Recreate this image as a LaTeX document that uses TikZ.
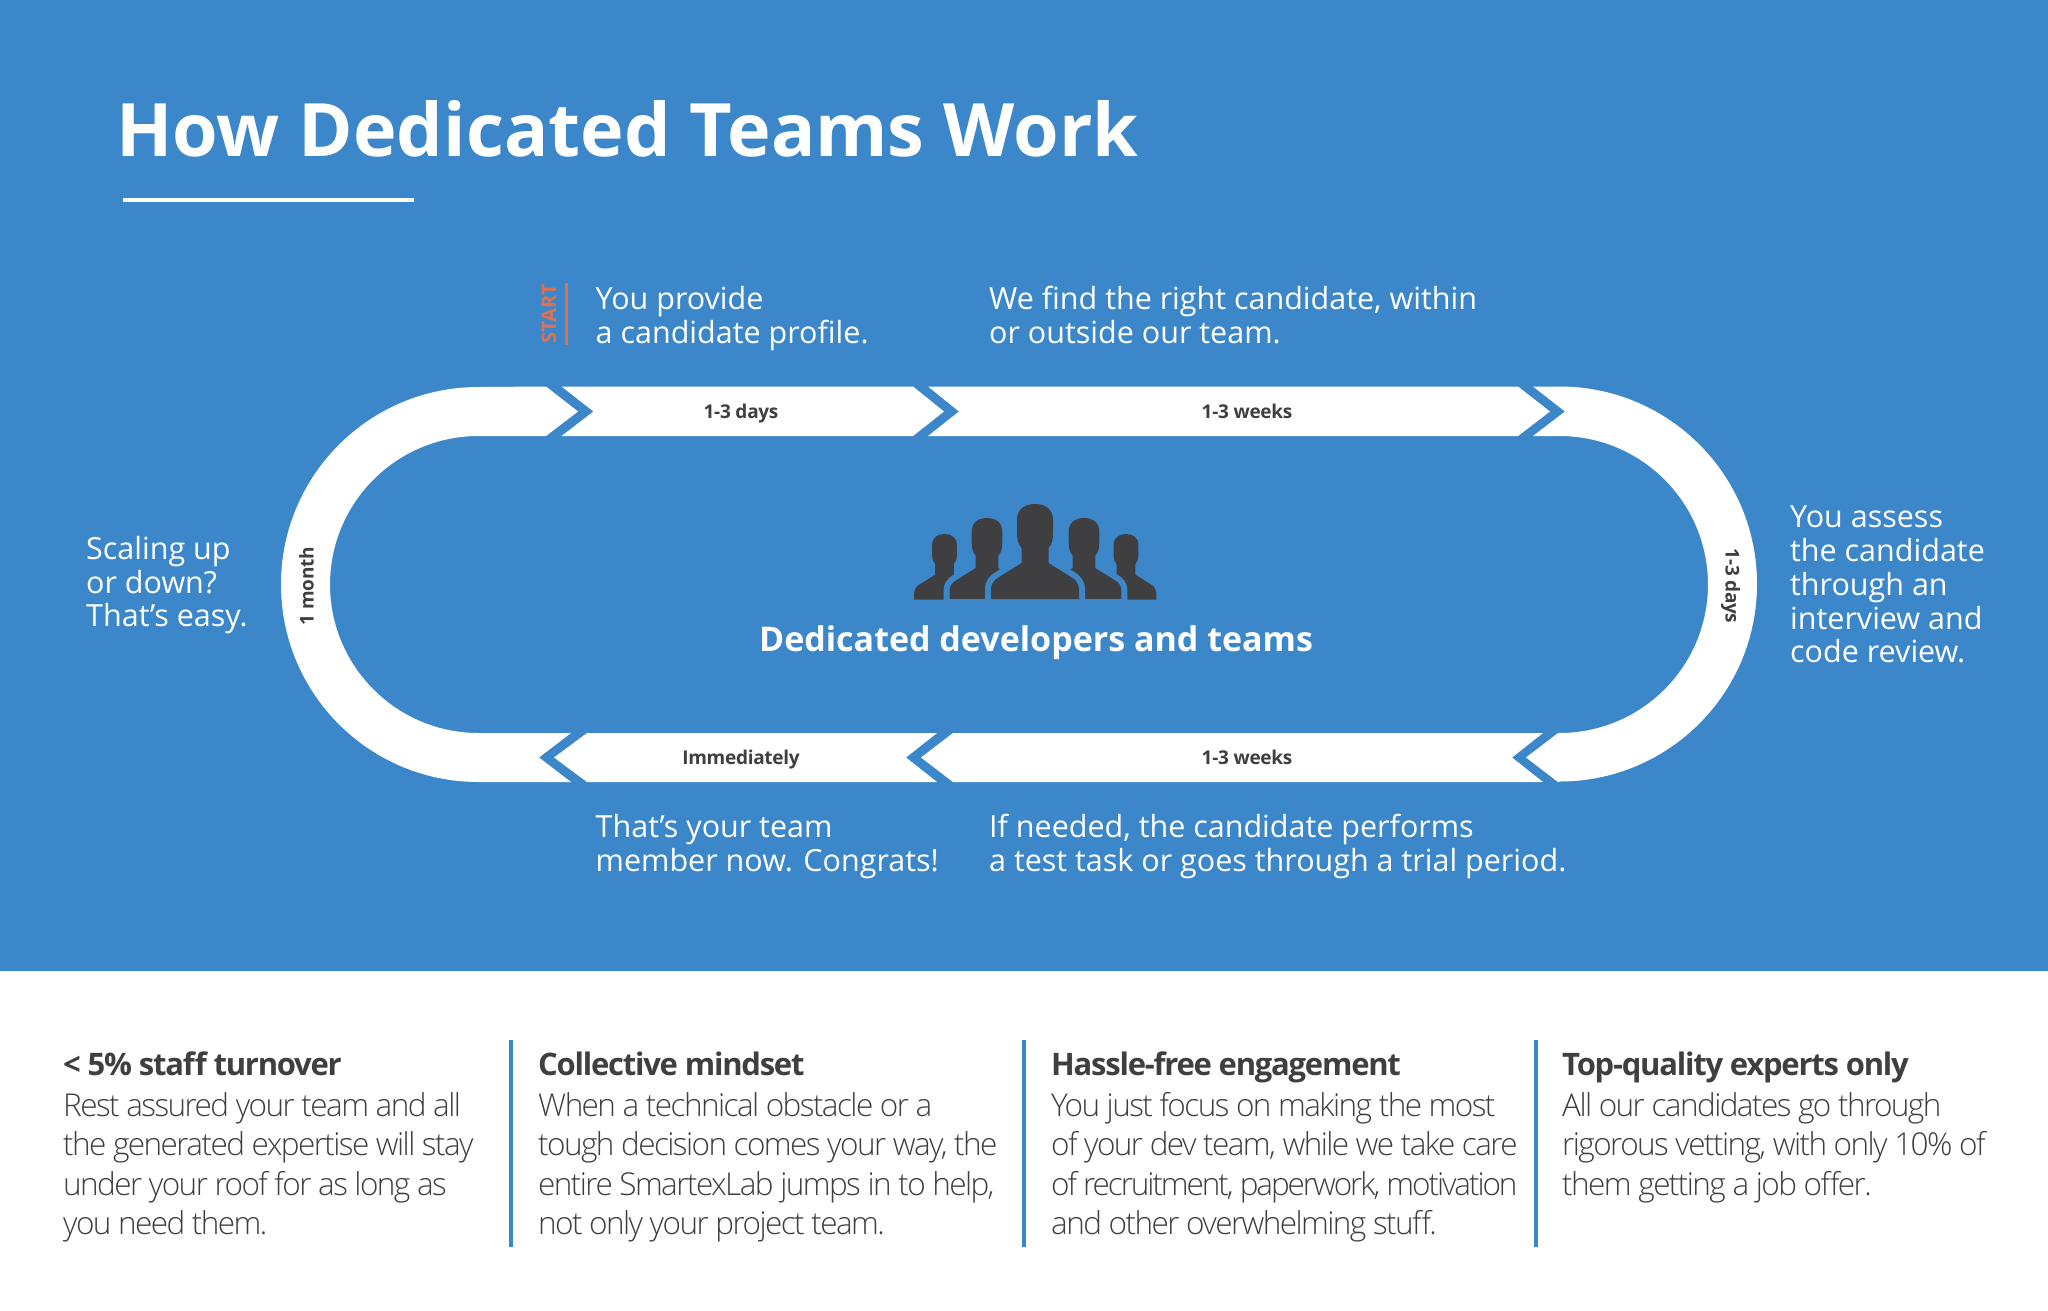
\documentclass[tikz,border=0pt]{standalone}
\usepackage{fontspec}
\setmainfont{Open Sans}
\newfontfamily\lightfont{Open Sans Light}
\usepackage{tikz}
\definecolor{teamblue}{HTML}{3C87C9}
\definecolor{teamdark}{HTML}{3F3F42}
\definecolor{teamorange}{HTML}{E2704F}
\tikzstyle{track} = [fill=white]
\tikzstyle{steplabel} = [anchor=base,
inner sep=0pt,
text=teamdark,
font=\fontsize{19}{23}\selectfont\bfseries\addfontfeatures{LetterSpace=-1.5}]
\tikzstyle{caption} = [anchor=north west,
inner sep=0pt,
align=left,
text=white,
font=\fontsize{30.5}{33.7}\selectfont]
\tikzstyle{heading} = [anchor=base west,
inner sep=0pt,
text=teamdark,
font=\fontsize{31}{39}\selectfont\bfseries\addfontfeatures{LetterSpace=-4}]
\tikzstyle{body} = [anchor=north west,
inner sep=0pt,
align=left,
text=teamdark,
font=\lightfont\fontsize{31.5}{39.5}\selectfont\addfontfeatures{LetterSpace=-5}]
\tikzstyle{divider} = [teamblue,line width=4pt]
\tikzset{member/.pic={
  \path[draw=teamblue,line width=12pt,fill=teamblue,pic actions] (-13.5,59) -- (-13.5,44) .. controls (-17,40) and (-18,36) .. (-18,28) -- (-18,16) .. controls (-18,5) and (-10,0) .. (0,0) .. controls (10,0) and (18,5) .. (18,16) -- (18,28) .. controls (18,36) and (17,40) .. (13.5,44) -- (13.5,59) -- (36,73) .. controls (41,76) and (44,80) .. (44,85) -- (44,95) -- (-44,95) -- (-44,85) .. controls (-44,80) and (-41,76) .. (-36,73) -- cycle;
  \fill[teamdark] (-13.5,59) -- (-13.5,44) .. controls (-17,40) and (-18,36) .. (-18,28) -- (-18,16) .. controls (-18,5) and (-10,0) .. (0,0) .. controls (10,0) and (18,5) .. (18,16) -- (18,28) .. controls (18,36) and (17,40) .. (13.5,44) -- (13.5,59) -- (36,73) .. controls (41,76) and (44,80) .. (44,85) -- (44,95) -- (-44,95) -- (-44,85) .. controls (-44,80) and (-41,76) .. (-36,73) -- cycle;
}}

\begin{document}
\begin{tikzpicture}[x=1pt,y=-1pt]
        \useasboundingbox (0,0) rectangle (2048,1310);
        \fill[white] (0,0) rectangle (2048,1310);
        \fill[teamblue] (0,0) rectangle (2048,971);

        \node (title) [anchor=base west, inner sep=0pt, text=white, font=\fontsize{73.7}{80}\selectfont\bfseries] at (116,156) {How Dedicated Teams Work};
        \draw[white, line width=4pt] (123,200) -- (414,200);

        % the loop
        \fill[track] (546,386.5) -- (578,411.5) -- (546,436) -- (478.5,436) arc[start angle=90,end angle=270,radius=148.5pt] -- (571,733) -- (539,757.5) -- (571,782) -- (478.5,782) arc[start angle=270,end angle=90,radius=197.5pt] -- cycle;
        \fill[track] (561.5,386.5) -- (913,386.5) -- (944,411.5) -- (913,436) -- (561.5,436) -- (593.5,411.5) -- cycle;
        \fill[track] (928,386.5) -- (1518,386.5) -- (1550,411.5) -- (1518,436) -- (928,436) -- (959,411.5) -- cycle;
        \fill[track] (1533,386.5) -- (1559.5,386.5) arc[start angle=90,end angle=-90,radius=197.5pt] -- (1558,782) -- (1526,757.5) -- (1558,733) -- (1559.5,733) arc[start angle=-90,end angle=90,radius=148.5pt] -- (1533,436) -- (1565,411.5) -- cycle;
        \fill[track] (587,733) -- (937,733) -- (906,757.5) -- (937,782) -- (587,782) -- (554,757.5) -- cycle;
        \fill[track] (953,733) -- (1543,733) -- (1512,757.5) -- (1543,782) -- (953,782) -- (921,757.5) -- cycle;

        \node (days1) [steplabel] at (741,418) {1-3 days};
        \node (weeks1) [steplabel] at (1247,418) {1-3 weeks};
        \node (days2) [steplabel, rotate=-90] at (1725.5,586) {1-3 days};
        \node (weeks2) [steplabel] at (1247,764) {1-3 weeks};
        \node (now) [steplabel] at (741,764) {Immediately};
        \node (month) [steplabel, rotate=90] at (313.5,586) {1 month};

        \node (start) [inner sep=0pt, rotate=90, text=teamorange, font=\fontsize{20}{23}\selectfont\bfseries] at (549,314) {START};
        \draw[teamorange, line width=3pt] (566,283) -- (566,345);

        \node (profile) [caption] at (595.5,286) {You provide\\a candidate profile.};
        \node (find) [caption] at (989,286) {We find the right candidate, within\\or outside our team.};
        \node (assess) [caption] at (1790,506) {You assess\\the candidate\\through an\\interview and\\code review.};
        \node (trial) [caption] at (989,814) {If needed, the candidate performs\\a test task or goes through a trial period.};
        \node (member) [caption] at (595.5,814) {That’s your team\\member now. Congrats!};
        \node (scaling) [caption] at (86,536) {Scaling up\\or down?\\That’s easy.};

        % people in the middle
        \pic[scale=.69] at (944.5,534) {member};
        \pic[scale=.69] at (1126,534) {member};
        \pic[scale=.85] at (987,518) {member};
        \pic[scale=.85] at (1084,518) {member};
        \pic at (1035,504) {member};
        \node (dedicated) [anchor=base, inner sep=0pt, text=white, font=\fontsize{34}{40}\selectfont\bfseries] at (1036,651) {Dedicated developers and teams};

        \draw[divider] (511,1040) -- (511,1247);
        \draw[divider] (1024,1040) -- (1024,1247);
        \draw[divider] (1536,1040) -- (1536,1247);

        \node (turnover) [heading] at (63,1075) {< 5\% staff turnover};
        \node (turnovertext) [body] at (63,1092) {Rest assured your team and all\\the generated expertise will stay\\under your roof for as long as\\you need them.};
        \node (mindset) [heading] at (538,1075) {Collective mindset};
        \node (mindsettext) [body] at (538,1092) {When a technical obstacle or a\\tough decision comes your way, the\\entire SmartexLab jumps in to help,\\not only your project team.};
        \node (hassle) [heading] at (1051,1075) {Hassle-free engagement};
        \node (hassletext) [body] at (1051,1092) {You just focus on making the most\\of your dev team, while we take care\\{\addfontfeatures{LetterSpace=-6.6}of recruitment, paperwork, motivation}\\and other overwhelming stuff.};
        \node (experts) [heading] at (1562,1075) {Top-quality experts only};
        \node (expertstext) [body] at (1562,1092) {All our candidates go through\\rigorous vetting, with only 10\% of\\them getting a job offer.};
\end{tikzpicture}
\end{document}
